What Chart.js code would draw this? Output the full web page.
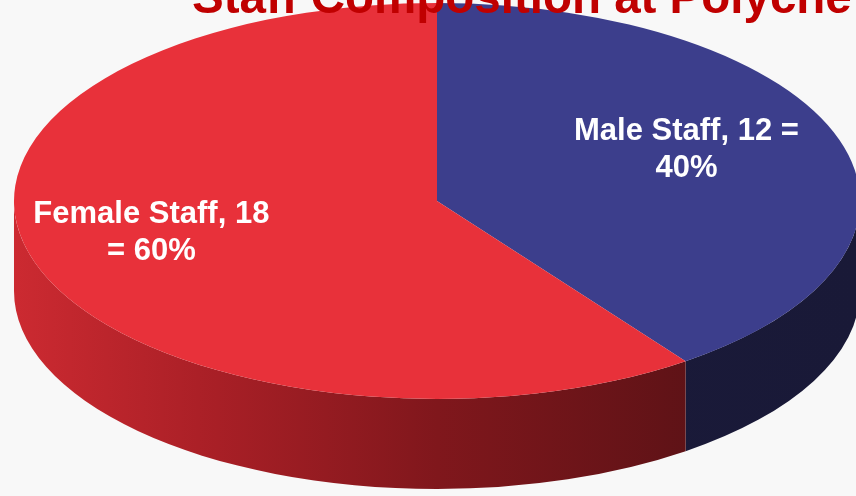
<!DOCTYPE html>
<html>
<head>
<meta charset="utf-8">
<script src="https://cdn.jsdelivr.net/npm/chart.js@4/dist/chart.umd.min.js"></script>
<style>
  html, body { margin: 0; padding: 0; background: #f8f8f8; overflow: hidden; width: 856px; height: 496px; }
  #wrap { position: absolute; left: 0; top: 0; width: 880px; height: 880px; }
</style>
</head>
<body>
<div id="wrap"><canvas id="chartPie"></canvas></div>
<script>
const titulo = "Staff Composition at Polyche";
const categorias = ["Male Staff", "Female Staff"];
const valores = [12, 18];
const coresTopo = ["#3c3e8c", "#e8313a"];

// paredes laterais do "3d"
function corParede(ctx, i, x, r) {
  const g = ctx.createLinearGradient(x - r, 0, x + r, 0);
  if (i === 0) {
    g.addColorStop(0, "#1c1c3e");
    g.addColorStop(1, "#191937");
  } else {
    g.addColorStop(0, "#cc2a31");
    g.addColorStop(0.24, "#a81f26");
    g.addColorStop(0.5, "#80171c");
    g.addColorStop(0.83, "#5b1216");
    g.addColorStop(1, "#501013");
  }
  return g;
}

function quebrar(ctx, texto, max) {
  const palavras = texto.split(" ");
  const linhas = [];
  let atual = "";
  palavras.forEach(p => {
    const teste = atual ? atual + " " + p : p;
    if (ctx.measureText(teste).width > max && atual) {
      linhas.push(atual);
      atual = p;
    } else {
      atual = teste;
    }
  });
  linhas.push(atual);
  return linhas;
}

const pie3d = {
  id: "pie3d",
  beforeDatasetsDraw(chart, args, opts) {
    const ctx = chart.ctx;
    const arcs = chart.getDatasetMeta(0).data;
    const { x, y, outerRadius } = arcs[0].getProps(["x", "y", "outerRadius"]);
    const k = opts.ry / outerRadius;
    ctx.save();
    ctx.translate(0, opts.cy);
    ctx.scale(1, k);
    ctx.translate(0, -y);
    const d = opts.depth / k;
    arcs.forEach((arc, i) => {
      const p = arc.getProps(["startAngle", "endAngle"]);
      const a = Math.max(p.startAngle, 0);
      const b = Math.min(p.endAngle, Math.PI);
      if (b <= a) return;
      ctx.beginPath();
      ctx.arc(x, y, outerRadius, a, b);
      ctx.arc(x, y + d, outerRadius, b, a, true);
      ctx.closePath();
      ctx.fillStyle = corParede(ctx, i, x, outerRadius);
      ctx.fill();
    });
  },
  afterDatasetsDraw(chart) {
    chart.ctx.restore();
  },
  afterDraw(chart, args, opts) {
    const ctx = chart.ctx;
    const arcs = chart.getDatasetMeta(0).data;
    const total = valores.reduce((s, v) => s + v, 0);

    ctx.save();
    ctx.font = "bold 31px 'Liberation Sans', Arial, sans-serif";
    ctx.fillStyle = "#ffffff";
    ctx.textAlign = "center";
    ctx.textBaseline = "alphabetic";
    arcs.forEach((arc, i) => {
      const p = arc.getProps(["x", "startAngle", "endAngle", "outerRadius"]);
      const meio = (p.startAngle + p.endAngle) / 2;
      const f = opts.labelRadius[i];
      const lx = p.x + f * p.outerRadius * Math.cos(meio);
      const ly = opts.cy + f * opts.ry * Math.sin(meio) + opts.labelShift[i];
      const pct = Math.round(valores[i] / total * 100);
      const texto = `${categorias[i]}, ${valores[i]} = ${pct}%`;
      const linhas = quebrar(ctx, texto, 248);
      const lh = 37;
      linhas.forEach((l, j) => {
        ctx.fillText(l, lx, ly + (j - (linhas.length - 1) / 2) * lh + 11);
      });
    });

    ctx.font = "bold 47.5px 'Liberation Sans', Arial, sans-serif";
    ctx.fillStyle = "#c00000";
    ctx.textAlign = "left";
    ctx.fillText(titulo, 192, 13);
    ctx.restore();
  }
};

const ctx = document.getElementById("chartPie");

new Chart(ctx, {
  type: "pie",
  data: {
    labels: categorias,
    datasets: [{
      data: valores,
      backgroundColor: coresTopo,
      borderWidth: 0,
      clip: false
    }]
  },
  options: {
    responsive: true,
    maintainAspectRatio: false,
    devicePixelRatio: 1,
    animation: false,
    events: [],
    layout: { padding: { left: 14, right: 20, top: 20, bottom: 14 } },
    plugins: {
      legend: { display: false },
      tooltip: { enabled: false },
      title: { display: false },
      pie3d: { cy: 201, ry: 198, depth: 90, labelRadius: [0.62, 0.71], labelShift: [-16, -14] }
    }
  },
  plugins: [pie3d]
});
</script>
</body>
</html>
